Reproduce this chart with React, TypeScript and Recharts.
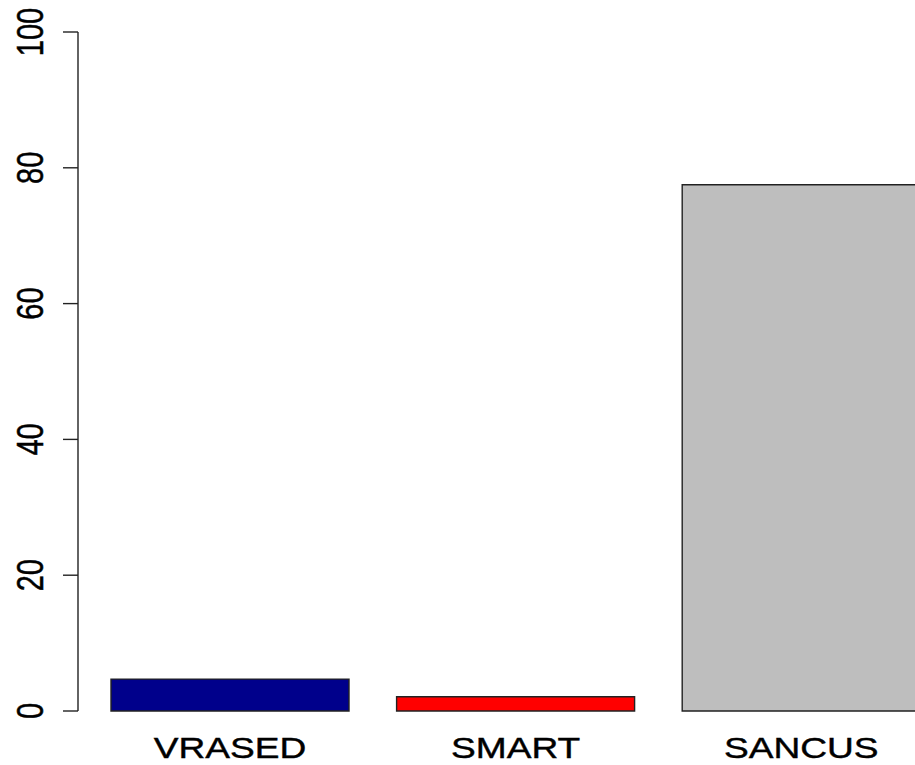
import React from "react";
import { BarChart, Bar, XAxis, YAxis, Cell } from "recharts";

const categories = ["VRASED", "SMART", "SANCUS"];
const values = [4.7, 2.1, 77.5];
const colors = ["#00008B", "#FF0000", "#BEBEBE"];
const yTicks = [0, 20, 40, 60, 80, 100];

const data = categories.map((name, i) => ({ name, value: values[i] }));

const FONT = "'Liberation Sans', Arial, Helvetica, sans-serif";
const STRETCH = 1.28;

const XTick = (props: any) => {
  const { x, y, payload } = props;
  return (
    <text
      transform={`translate(${x},${y + 47}) scale(${STRETCH},1)`}
      textAnchor="middle"
      fontFamily={FONT}
      fontSize={29}
      fill="#000"
      stroke="#000"
      strokeWidth={0.4}
    >
      {payload.value}
    </text>
  );
};

const YTick = (props: any) => {
  const { y, payload } = props;
  return (
    <text
      transform={`translate(35,${y}) scale(${STRETCH},1) rotate(-90)`}
      textAnchor="middle"
      fontFamily={FONT}
      fontSize={29}
      fill="#000"
      stroke="#000"
      strokeWidth={0.4}
    >
      {payload.value}
    </text>
  );
};

export default function App() {
  return (
    <div
      style={{
        position: "fixed",
        left: 8,
        top: 8,
        width: 907,
        height: 757,
        overflow: "hidden",
        background: "#fff",
      }}
    >
      <BarChart
        width={936}
        height={757}
        data={data}
        margin={{ top: 24, right: 0, left: 0, bottom: 14 }}
        barCategoryGap="8.333%"
      >
        <XAxis
          dataKey="name"
          axisLine={false}
          tickLine={false}
          tickSize={0}
          tickMargin={0}
          height={40}
          padding={{ left: 9.2, right: 0 }}
          tick={<XTick />}
          interval={0}
        />
        <YAxis
          domain={[0, 100]}
          ticks={yTicks}
          width={70}
          tickSize={15}
          axisLine={{ stroke: "#222", strokeWidth: 1.4 }}
          tickLine={{ stroke: "#222", strokeWidth: 1.4 }}
          tick={<YTick />}
          interval={0}
        />
        <Bar dataKey="value" stroke="#222" strokeWidth={1.4} isAnimationActive={false}>
          {data.map((d, i) => (
            <Cell key={d.name} fill={colors[i]} />
          ))}
        </Bar>
      </BarChart>
    </div>
  );
}
